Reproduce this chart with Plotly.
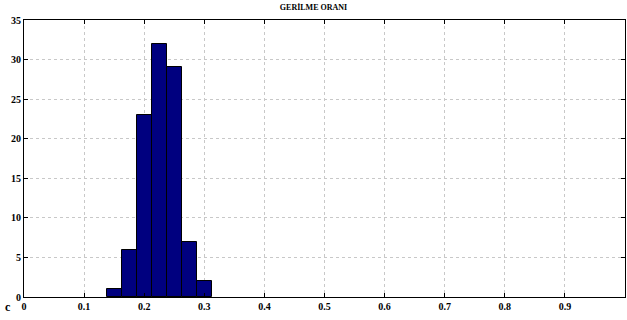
import plotly.graph_objects as go

bin_centers = [0.15, 0.175, 0.2, 0.225, 0.25, 0.275, 0.3]
counts = [1, 6, 23, 32, 29, 7, 2]
bin_width = 0.025
x_ticks = [0, 0.1, 0.2, 0.3, 0.4, 0.5, 0.6, 0.7, 0.8, 0.9, 1]
x_tick_labels = ["0", "0.1", "0.2", "0.3", "0.4", "0.5", "0.6", "0.7", "0.8", "0.9", "1"]
y_ticks = [0, 5, 10, 15, 20, 25, 30, 35]

font_family = "Liberation Serif"

fig = go.Figure()
fig.add_trace(go.Bar(
    x=bin_centers, y=counts, width=[bin_width] * len(counts),
    marker=dict(color="#00007f", line=dict(color="#000000", width=1)),
    showlegend=False,
))

fig.update_layout(
    width=627, height=320,
    margin=dict(l=24, r=2, t=20, b=23, autoexpand=False),
    paper_bgcolor="white", plot_bgcolor="white",
    font=dict(family=font_family, size=10, color="#000000"),
    title=dict(text="<b>GERİLME ORANI</b>", x=0.5, xanchor="center",
               y=0.985, yanchor="top", font=dict(size=8, family=font_family)),
    bargap=0,
)
axis_common = dict(
    showgrid=True, gridcolor="#c8c8c8", griddash="dot", gridwidth=1,
    showline=True, linecolor="#000000", linewidth=1, mirror="ticks",
    ticks="inside", ticklen=4, tickcolor="#000000",
    zeroline=False, tickfont=dict(size=10, family=font_family),
    automargin=False,
)
fig.update_xaxes(range=[0, 1], tickvals=x_ticks,
                 ticktext=[f"<b>{t}</b>" for t in x_tick_labels], **axis_common)
fig.update_yaxes(range=[0, 35], tickvals=y_ticks,
                 ticktext=[f"<b>{t}</b>" for t in y_ticks], **axis_common)
fig.add_annotation(text="<b>c</b>", xref="paper", yref="paper", x=-0.027, y=-0.036,
                   xanchor="center", yanchor="middle", showarrow=False,
                   font=dict(size=12, family=font_family))
fig.write_html("out.html", config={"displayModeBar": False},
               post_script="document.body.style.margin='0';document.body.style.padding='0';")
